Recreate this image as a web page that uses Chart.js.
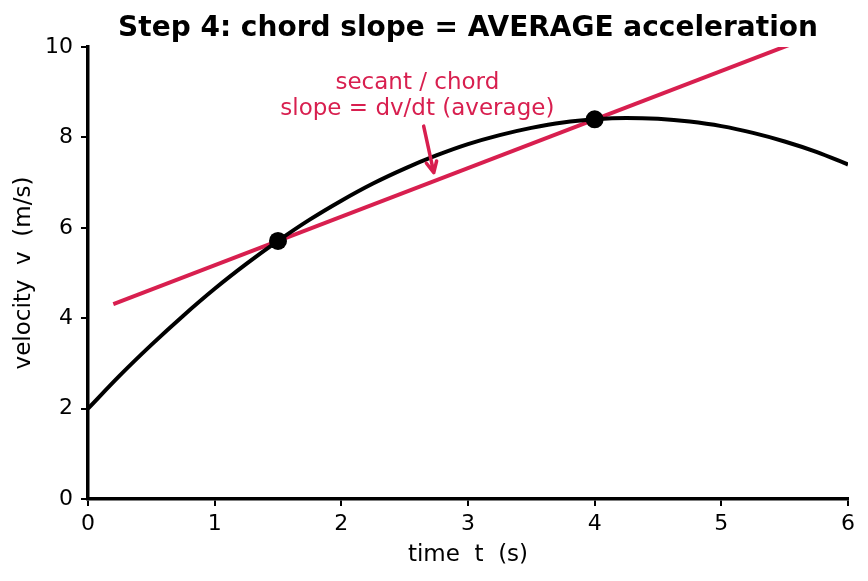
<!DOCTYPE html>
<html>
<head>
<meta charset="utf-8">
<script src="https://cdn.jsdelivr.net/npm/chart.js@4/dist/chart.umd.min.js"></script>
<style>
  html, body { margin: 0; padding: 0; background: #fff; }
  #wrap { width: 868px; height: 581px; }
</style>
</head>
<body>
<div id="wrap"><canvas id="chart"></canvas></div>
<script>
// velocity curve
var curveT = [0, 0.25, 0.5, 0.75, 1, 1.25, 1.5, 1.75, 2, 2.25, 2.5, 2.75, 3,
              3.25, 3.5, 3.75, 4, 4.25, 4.5, 4.75, 5, 5.25, 5.5, 5.75, 6];
var curveV = [2.00, 2.73, 3.41, 4.05, 4.65, 5.20, 5.71, 6.18, 6.60, 6.98, 7.31, 7.60, 7.85,
              8.05, 8.21, 8.33, 8.40, 8.43, 8.41, 8.35, 8.25, 8.10, 7.91, 7.68, 7.40];

// secant (chord) through the two marked points
var chordT = [0.2, 5.8];
var chordV = [4.31, 10.33];

// marked points
var pointT = [1.5, 4];
var pointV = [5.71, 8.40];

var xTicks = [0, 1, 2, 3, 4, 5, 6];
var yTicks = [0, 2, 4, 6, 8, 10];

var RED = "#d81f4f";
var FONT = "DejaVu Sans";

function toXY(ts, vs) {
  return ts.map(function (t, i) { return { x: t, y: vs[i] }; });
}

/*
注釈（テキストと矢印）
*/
var notePlugin = {
  id: "note",
  afterDatasetsDraw: function (chart) {
    var ctx = chart.ctx;
    var xs = chart.scales.x, ys = chart.scales.y;
    ctx.save();
    ctx.fillStyle = RED;
    ctx.font = "23px '" + FONT + "'";
    ctx.textAlign = "center";
    ctx.textBaseline = "middle";
    ctx.fillText("secant / chord", xs.getPixelForValue(2.6), ys.getPixelForValue(9.2));
    ctx.fillText("slope = dv/dt (average)", xs.getPixelForValue(2.6), ys.getPixelForValue(8.63));

    var x0 = xs.getPixelForValue(2.65), y0 = ys.getPixelForValue(8.25);
    var x1 = xs.getPixelForValue(2.73), y1 = ys.getPixelForValue(7.22);
    var ang = Math.atan2(y1 - y0, x1 - x0);
    ctx.strokeStyle = RED;
    ctx.lineWidth = 3.5;
    ctx.lineCap = "round";
    ctx.lineJoin = "round";
    ctx.beginPath();
    ctx.moveTo(x0, y0);
    ctx.lineTo(x1, y1);
    ctx.moveTo(x1 - 12 * Math.cos(ang - 0.45), y1 - 12 * Math.sin(ang - 0.45));
    ctx.lineTo(x1, y1);
    ctx.lineTo(x1 - 12 * Math.cos(ang + 0.45), y1 - 12 * Math.sin(ang + 0.45));
    ctx.stroke();
    ctx.restore();
  }
};

var config = {
  type: "line",
  data: {
    datasets: [{
      data: toXY(pointT, pointV),
      showLine: false,
      pointRadius: 9,
      pointBackgroundColor: "#000",
      pointBorderWidth: 0,
      order: 0
    }, {
      data: toXY(curveT, curveV),
      borderColor: "#000",
      borderWidth: 4,
      pointRadius: 0,
      cubicInterpolationMode: "monotone",
      order: 1
    }, {
      data: toXY(chordT, chordV),
      borderColor: RED,
      borderWidth: 4,
      pointRadius: 0,
      clip: 0,
      order: 2
    }]
  },
  options: {
    responsive: true,
    maintainAspectRatio: false,
    animation: false,
    layout: { padding: { left: 0, right: 20, top: 0, bottom: 0 } },
    plugins: {
      legend: { display: false },
      tooltip: { enabled: false },
      title: {
        display: true,
        fullSize: false,
        text: "Step 4: chord slope = AVERAGE acceleration",
        color: "#000",
        font: { family: FONT, size: 28, weight: "bold" },
        padding: { top: 12, bottom: 1.4 }
      }
    },
    scales: {
      x: {
        type: "linear",
        min: 0, max: 6,
        afterFit: function (s) { s.height = 82; },
        afterBuildTicks: function (s) { s.ticks = xTicks.map(function (v) { return { value: v }; }); },
        ticks: { color: "#000", padding: 5, font: { family: FONT, size: 22 } },
        grid: { drawOnChartArea: false, drawTicks: true, tickLength: 7, color: "#000", lineWidth: 2 },
        border: { display: true, color: "#000", width: 3.5 },
        title: { display: true, text: "time  t  (s)", color: "#000", font: { family: FONT, size: 23 }, padding: { top: 0, bottom: 12 } }
      },
      y: {
        type: "linear",
        min: 0, max: 10,
        afterFit: function (s) { s.width = 88; },
        afterBuildTicks: function (s) { s.ticks = yTicks.map(function (v) { return { value: v }; }); },
        ticks: { color: "#000", padding: 8, font: { family: FONT, size: 22 } },
        grid: { drawOnChartArea: false, drawTicks: true, tickLength: 7, color: "#000", lineWidth: 2 },
        border: { display: true, color: "#000", width: 3.5 },
        title: { display: true, text: "velocity  v  (m/s)", color: "#000", font: { family: FONT, size: 23 }, padding: { top: 10, bottom: 0 } }
      }
    }
  },
  plugins: [notePlugin]
};

var ctx = document.getElementById("chart").getContext("2d");
window.myChart = new Chart(ctx, config);
</script>
</body>
</html>
